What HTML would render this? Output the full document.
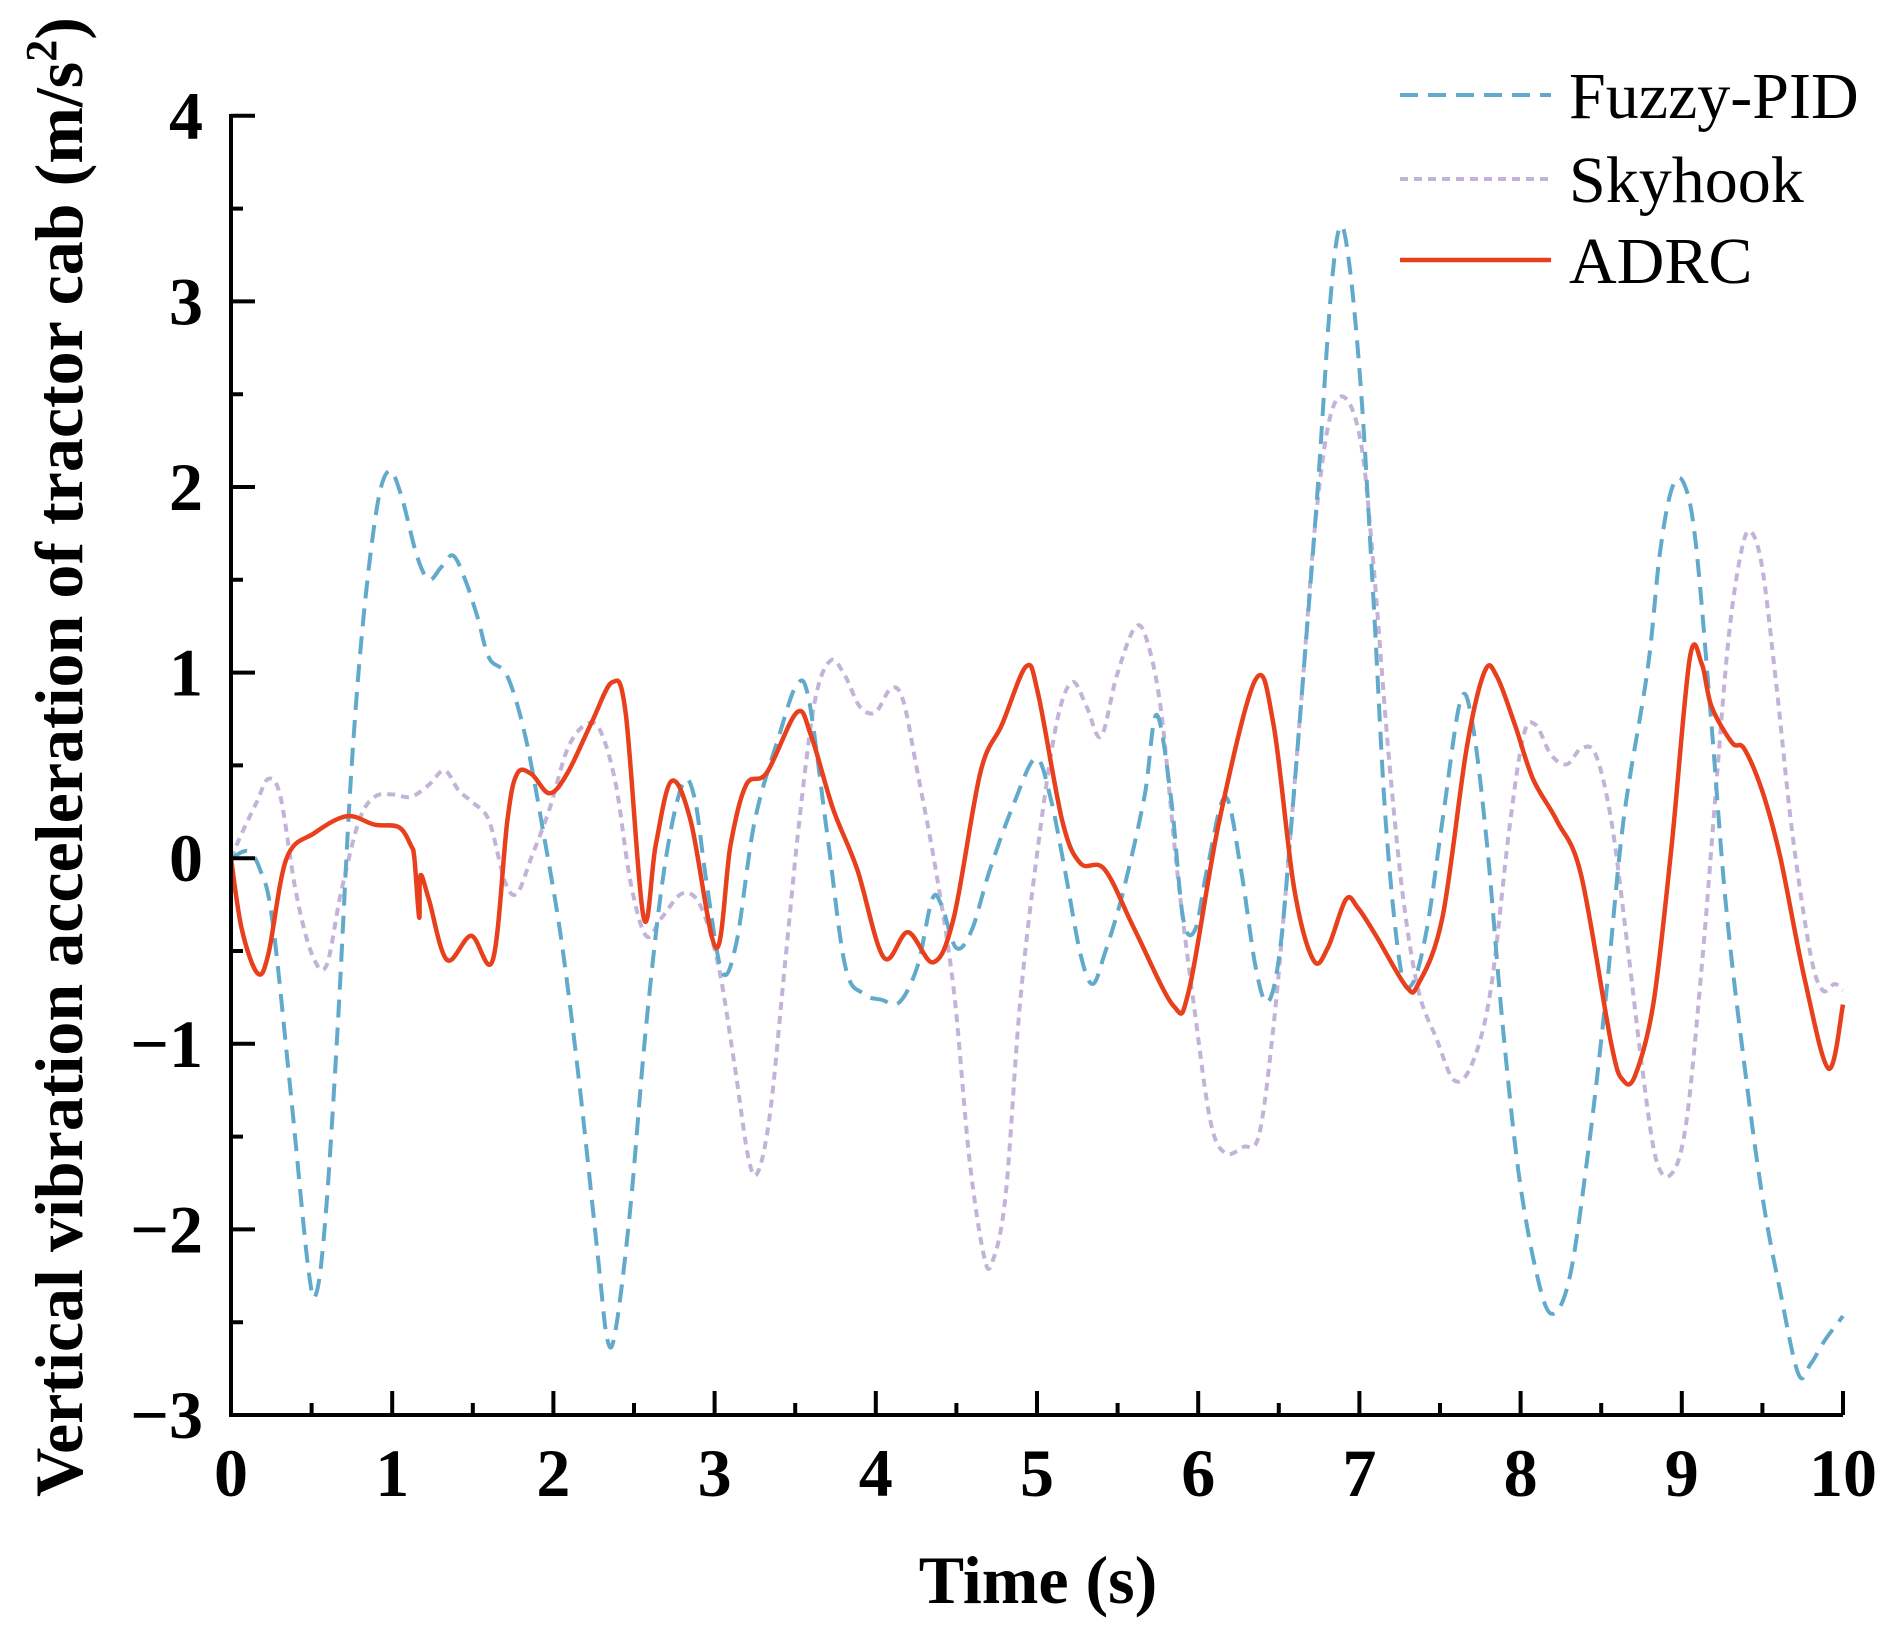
<!DOCTYPE html>
<html><head><meta charset="utf-8"><style>
html,body{margin:0;padding:0;background:#fff;}
svg{display:block;font-family:"Liberation Serif",serif;}
</style></head><body>
<svg id="s" width="1892" height="1635" viewBox="0 0 1892 1635" xmlns="http://www.w3.org/2000/svg">
<g id="series"></g>
<g stroke="#000" stroke-width="4" fill="none">
<path d="M231,114 V1415 H1843"/>
<path id="ticks"/>
</g>
<g id="labels" font-weight="bold" font-size="68" fill="#000"></g>
<text x="1038" y="1603" font-size="68" font-weight="bold" text-anchor="middle">Time (s)</text>
<text transform="translate(82,757) rotate(-90)" font-size="68" font-weight="bold" text-anchor="middle">Vertical vibration acceleration of tractor cab (m/s<tspan font-size="44" dy="-26">2</tspan><tspan dy="26">)</tspan></text>
<g font-size="66">
<line x1="1400" y1="95" x2="1551" y2="95" stroke="#62aacb" stroke-width="4" stroke-dasharray="18,10"/>
<text x="1569" y="118">Fuzzy-PID</text>
<line x1="1400" y1="179" x2="1551" y2="179" stroke="#c3b3d8" stroke-width="4" stroke-dasharray="8,6"/>
<text x="1569" y="202">Skyhook</text>
<line x1="1400" y1="260" x2="1551" y2="260" stroke="#e8401c" stroke-width="4.5"/>
<text x="1569" y="283">ADRC</text>
</g>
</svg>
<script>
const X=x=>231+(x-191)*1.2066, Y=y=>116+(y-96)*1.2073;
function path(a){const p=[];for(let i=0;i<a.length;i+=2)p.push([X(a[i]),Y(a[i+1])]);
let d="M"+p[0][0].toFixed(1)+","+p[0][1].toFixed(1);
for(let i=0;i<p.length-1;i++){const p0=p[i-1]||p[i],p1=p[i],p2=p[i+1],p3=p[i+2]||p2;
const c1=[p1[0]+(p2[0]-p0[0])/6,p1[1]+(p2[1]-p0[1])/6],c2=[p2[0]-(p3[0]-p1[0])/6,p2[1]-(p3[1]-p1[1])/6];
d+=" C"+c1.map(v=>v.toFixed(1))+" "+c2.map(v=>v.toFixed(1))+" "+p2.map(v=>v.toFixed(1));}return d;}
const blue=[191,711,205,705,215,720,225,760,240,900,255,1050,262,1070,270,1000,280,840,290,650,300,520,312,420,322,390,332,410,345,460,355,480,365,470,375,460,385,480,395,510,405,545,420,560,435,610,450,690,465,780,480,900,495,1040,503,1110,510,1100,522,1000,535,850,550,720,565,650,575,660,585,730,598,805,610,780,625,680,645,610,660,567,670,580,685,690,700,800,715,823,730,828,745,830,760,800,772,745,780,750,792,785,805,770,820,720,840,665,858,628,870,660,882,720,895,790,905,815,915,790,930,740,948,660,958,592,970,660,980,760,990,770,1000,720,1015,660,1028,720,1040,800,1050,830,1060,790,1070,680,1082,530,1092,400,1102,250,1110,188,1118,220,1128,330,1138,500,1148,680,1160,800,1170,815,1182,770,1195,680,1210,580,1220,600,1232,700,1245,850,1258,970,1272,1050,1285,1088,1300,1060,1315,960,1330,830,1345,680,1365,555,1375,460,1385,405,1395,400,1405,450,1418,600,1430,750,1445,880,1460,990,1475,1070,1490,1138,1500,1130,1512,1110,1527,1090];
const purple=[191,711,200,690,212,665,222,645,232,660,245,740,258,790,270,800,282,740,297,680,310,660,325,658,340,660,355,650,368,638,380,655,392,665,405,680,418,730,428,740,440,710,455,670,470,620,485,600,497,605,510,650,522,730,535,775,548,760,565,740,580,750,595,800,608,880,620,960,628,970,638,920,650,800,662,680,675,580,688,547,700,560,712,585,725,590,738,570,748,580,760,640,775,720,790,820,803,960,815,1040,822,1045,833,990,845,830,860,700,875,600,888,565,900,585,912,610,925,560,940,520,950,530,962,590,975,720,990,840,1003,930,1015,955,1030,950,1043,940,1055,850,1065,740,1078,580,1090,430,1102,345,1115,330,1128,370,1138,470,1150,620,1162,740,1175,820,1190,860,1205,895,1220,880,1235,820,1250,690,1262,610,1272,600,1285,625,1298,633,1310,620,1322,625,1335,680,1348,780,1360,880,1372,960,1385,972,1397,930,1410,800,1422,650,1432,530,1442,460,1450,440,1460,470,1472,570,1485,690,1500,790,1510,820,1520,815,1527,820];
const red=[191,711,200,770,213,806,222,790,237,711,260,690,287,676,310,683,330,685,340,700,343,711,347,760,348,725,355,745,370,795,390,775,408,795,420,680,428,641,440,641,455,657,470,640,490,598,507,565,518,590,533,760,543,700,556,647,572,680,593,785,605,700,618,650,635,640,660,590,672,610,690,670,710,720,732,793,752,772,773,797,790,760,812,640,830,600,850,552,860,575,880,680,895,715,915,720,940,770,972,833,985,820,1010,680,1040,563,1055,600,1072,735,1088,795,1100,785,1115,745,1125,752,1140,775,1165,817,1175,815,1195,760,1215,620,1230,556,1240,560,1255,600,1270,645,1290,680,1310,725,1335,865,1345,895,1355,890,1370,830,1385,700,1400,545,1410,550,1418,585,1435,615,1445,620,1460,655,1475,710,1495,810,1515,885,1527,832];
const g=document.getElementById("series");
g.innerHTML=`<path d="${path(purple)}" fill="none" stroke="#c3b3d8" stroke-width="4" stroke-dasharray="8,6"/>
<path d="${path(blue)}" fill="none" stroke="#62aacb" stroke-width="4" stroke-dasharray="18,10"/>
<path d="${path(red)}" fill="none" stroke="#e8401c" stroke-width="4.5"/>`;
let t="",L="";
for(let i=0;i<=20;i++){const x=231+i*161.2/2;t+=`M${x},1415V${1415-(i%2?12:24)}`;
 if(i%2==0)L+=`<text x="${x}" y="1496" text-anchor="middle">${i/2}</text>`;}
for(let i=0;i<=14;i++){const y=1415-i*185.6/2;t+=`M231,${y}H${231+(i%2?12:24)}`;
 if(i%2==0){const v=-3+i/2;L+=`<text x="203" y="${y+23}" text-anchor="end">${v<0?"\u2212"+(-v):v}</text>`;}}
document.getElementById("ticks").setAttribute("d",t);
document.getElementById("labels").innerHTML=L;
</script>
</body></html>
